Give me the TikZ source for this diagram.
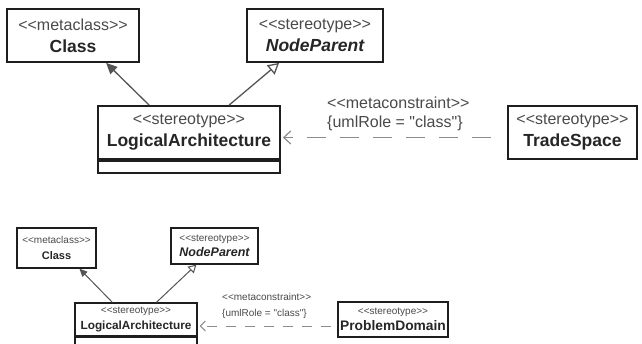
\documentclass[tikz,border=0pt]{standalone}
\usepackage{fontspec}
\setmainfont{Liberation Sans}[Ligatures=TeXOff]
\usetikzlibrary{arrows.meta,calc}
\definecolor{boxline}{HTML}{1E1E1E}
\definecolor{stereo}{HTML}{4A4A4A}
\definecolor{namecol}{HTML}{262626}
\definecolor{arrowcol}{HTML}{555555}
\definecolor{depcol}{HTML}{8C8C8C}
\tikzset{
  bigbox/.style={draw=boxline, line width=1.8pt, inner sep=0pt, align=center,
    font=\fontsize{16}{22}\selectfont, text=stereo},
  smallbox/.style={draw=boxline, line width=1.2pt, inner sep=0pt, align=center,
    font=\fontsize{10}{15.5}\selectfont, text=stereo},
  metaarrow/.style={draw=arrowcol, line width=1.3pt, -{Triangle[length=11pt,width=10pt]}},
  genarrow/.style={draw=arrowcol, line width=1.3pt, -{Triangle[open,length=11pt,width=12pt,fill=white]}},
  deparrow/.style={draw=depcol, line width=1.2pt, -{Straight Barb[length=7pt,width=13pt]}},
  lbl/.style={anchor=west, inner sep=0pt, text=stereo},
}
\begin{document}
\begin{tikzpicture}[x=1pt,y=-1pt]
\useasboundingbox[fill=white] (0,0) rectangle (642,343);
% ---------- top diagram ----------
\node[bigbox, minimum width=132, minimum height=53] (C1) at (73,35.5)
  {<<metaclass>>\\{\fontsize{17.5}{20}\selectfont\bfseries\color{namecol}Class}};
\node[bigbox, minimum width=136, minimum height=53] (N1) at (315,35.5)
  {<<stereotype>>\\{\fontsize{17.5}{20}\selectfont\bfseries\itshape\color{namecol}NodeParent}};
\node[bigbox, minimum width=182, minimum height=53] (L1) at (189,132.5)
  {<<stereotype>>\\{\fontsize{17.5}{20}\selectfont\bfseries\color{namecol}LogicalArchitecture}};
\node[bigbox, minimum width=182, minimum height=12, anchor=north] (L1b) at (L1.south) {};
\node[bigbox, minimum width=129, minimum height=53] (T1) at (572.5,132.5)
  {<<stereotype>>\\{\fontsize{17.5}{20}\selectfont\bfseries\color{namecol}TradeSpace}};
\draw[metaarrow] ($(L1.north west)+(52,0)$) -- ($(C1.south west)+(100,0)$);
\draw[genarrow] ($(L1.north west)+(132,0)$) -- ($(N1.south west)+(33,0)$);
\draw[deparrow, dash pattern=on 19pt off 14pt] ($(T1.west)+(-16,5)$) -- ($(L1.east)+(2,5)$);
\node[lbl, font=\fontsize{16}{20}\selectfont] (M1) at (327,103) {<<metaconstraint>>};
\node[lbl, font=\fontsize{16}{20}\selectfont] (R1) at (327,123) {\{umlRole = "class"\}};
% ---------- bottom diagram ----------
\node[smallbox, minimum width=79, minimum height=40] (C2) at (56.5,248)
  {<<metaclass>>\\{\fontsize{11}{13}\selectfont\bfseries\color{namecol}Class}};
\node[smallbox, minimum width=87, minimum height=36] (N2) at (214.5,246)
  {<<stereotype>>\\{\fontsize{12.5}{14}\selectfont\bfseries\itshape\color{namecol}NodeParent}};
\node[smallbox, minimum width=122, minimum height=33] (L2) at (136,319.5)
  {<<stereotype>>\\{\fontsize{11.8}{14}\selectfont\bfseries\color{namecol}LogicalArchitecture}};
\node[smallbox, minimum width=122, minimum height=14, anchor=north] (L2b) at (L2.south) {};
\node[smallbox, minimum width=110, minimum height=35] (P2) at (393,319.5)
  {<<stereotype>>\\{\fontsize{13.8}{15}\selectfont\bfseries\color{namecol}ProblemDomain}};
\draw[metaarrow, line width=1pt, -{Triangle[length=8pt,width=7pt]}] ($(L2.north west)+(38,0)$) -- ($(C2.south west)+(63,0)$);
\draw[genarrow, line width=1pt, -{Triangle[open,length=8pt,width=9pt,fill=white]}] ($(L2.north west)+(82,0)$) -- ($(N2.south west)+(26,0)$);
\draw[deparrow, line width=1pt, dash pattern=on 10pt off 9pt, -{Straight Barb[length=5pt,width=10pt]}] ($(P2.west)+(-6,6.5)$) -- ($(L2.east)+(2,6.5)$);
\node[lbl, font=\fontsize{10}{12}\selectfont] (M2) at (222,297) {<<metaconstraint>>};
\node[lbl, font=\fontsize{10}{12}\selectfont] (R2) at (222,314) {\{umlRole = "class"\}};
\end{tikzpicture}
\end{document}
